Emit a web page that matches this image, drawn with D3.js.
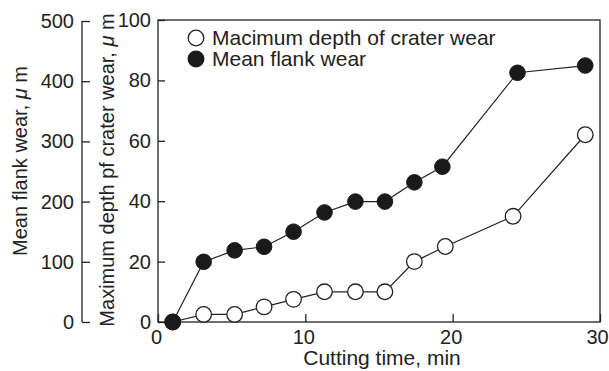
<!DOCTYPE html>
<html><head><meta charset="utf-8">
<script src="https://cdnjs.cloudflare.com/ajax/libs/d3/7.8.5/d3.min.js"></script>
<style>
html,body{margin:0;padding:0;background:#fff;}
text{font-family:"Liberation Sans",Arial,sans-serif;fill:#222;}
</style></head>
<body><svg id="c" width="609" height="371"></svg>
<script>
// ---- data ----
const flankTime  = [1.0, 3.1, 5.2, 7.2, 9.2, 11.3, 13.4, 15.4, 17.4, 19.3, 24.4, 29.0];
const flankWear  = [0, 100, 119, 125, 150, 182, 200, 200, 232, 258, 414, 426];
const craterTime = [1.0, 3.1, 5.2, 7.2, 9.2, 11.3, 13.4, 15.4, 17.4, 19.5, 24.1, 29.0];
const craterDepth= [0, 2.5, 2.5, 5, 7.5, 10, 10, 10, 20, 25, 35, 62];
const xTicks = [0, 10, 20, 30];
const craterTicks = [0, 20, 40, 60, 80, 100];
const flankTicks = [0, 100, 200, 300, 400, 500];
const legendLabels = ["Macimum depth of crater wear", "Mean flank wear"];

const svg = d3.select("#c");
const L = 158, R = 600, T = 20, B = 322;
const x = d3.scaleLinear().domain([0, 30]).range([L, R]);
const yC = d3.scaleLinear().domain([0, 100]).range([B, T]);
const yF = d3.scaleLinear().domain([0, 500]).range([B, T + 1]);
const FS = 20;

// frame
svg.append("rect").attr("x", L).attr("y", T).attr("width", R - L).attr("height", B - T)
  .attr("fill", "none").attr("stroke", "#222").attr("stroke-width", 1.3);

// inner crater axis (ticks inward)
const gC = svg.append("g").attr("transform", `translate(${L},0)`)
  .call(d3.axisLeft(yC).tickValues(craterTicks).tickSizeInner(-7).tickSizeOuter(0).tickPadding(7));
gC.select(".domain").remove();
gC.selectAll("line").attr("stroke", "#222").attr("stroke-width", 1.3);
gC.selectAll("text").attr("font-size", FS).attr("fill", "#222").attr("font-family", "Liberation Sans, Arial, sans-serif");

// x axis (ticks inward)
const gX = svg.append("g").attr("transform", `translate(0,${B})`)
  .call(d3.axisBottom(x).tickValues(xTicks).tickSizeInner(-8).tickSizeOuter(0).tickPadding(4));
gX.select(".domain").remove();
gX.selectAll("line").attr("stroke", "#222").attr("stroke-width", 1.3);
gX.selectAll("text").attr("font-size", FS).attr("fill", "#222").attr("font-family", "Liberation Sans, Arial, sans-serif")
  .attr("dy", "0.9em").attr("dx", d => d === 30 ? -3 : -2);

// outer flank axis
const AX = 82;
const gF = svg.append("g").attr("transform", `translate(${AX},0)`)
  .call(d3.axisLeft(yF).tickValues(flankTicks).tickSizeInner(-8).tickSizeOuter(0).tickPadding(8));
gF.select(".domain").attr("d", `M0,${yF(500)}V${yF(0)}`).attr("stroke", "#222").attr("stroke-width", 1.3);
gF.selectAll("line").attr("stroke", "#222").attr("stroke-width", 1.3);
gF.selectAll("text").attr("font-size", FS).attr("fill", "#222").attr("font-family", "Liberation Sans, Arial, sans-serif");

// axis titles
svg.append("text").attr("x", (L + R) / 2 + 3).attr("y", 365).attr("text-anchor", "middle")
  .attr("font-size", 21).text("Cutting time, min");

function rotTitle(cx, cy, main) {
  const t = svg.append("text").attr("transform", `translate(${cx},${cy}) rotate(-90)`)
    .attr("text-anchor", "middle").attr("font-size", FS);
  t.append("tspan").text(main);
  t.append("tspan").attr("font-style", "italic").text("\u03bc");
  t.append("tspan").text(" m");
}
rotTitle(27, 161, "Mean flank wear,  ");
rotTitle(114, 170, "Maximum depth pf crater wear,  ");

// lines
const lineC = d3.line().x(d => x(d[0])).y(d => yC(d[1]));
const lineF = d3.line().x(d => x(d[0])).y(d => yF(d[1]));
const cData = craterTime.map((t, i) => [t, craterDepth[i]]);
const fData = flankTime.map((t, i) => [t, flankWear[i]]);

svg.append("path").datum(cData).attr("d", lineC).attr("fill", "none").attr("stroke", "#222").attr("stroke-width", 1.2);
svg.append("path").datum(fData).attr("d", lineF).attr("fill", "none").attr("stroke", "#222").attr("stroke-width", 1.2);

const r = 7.8;
svg.append("g").selectAll("circle").data(cData).join("circle")
  .attr("cx", d => x(d[0])).attr("cy", d => yC(d[1])).attr("r", r)
  .attr("fill", "#fff").attr("stroke", "#222").attr("stroke-width", 1.3);
svg.append("g").selectAll("circle").data(fData).join("circle")
  .attr("cx", d => x(d[0])).attr("cy", d => yF(d[1])).attr("r", r)
  .attr("fill", "#1a1a1a").attr("stroke", "#1a1a1a").attr("stroke-width", 1);

// legend
const lg = svg.append("g");
legendLabels.forEach((lab, i) => {
  const cy = 38 + i * 21;
  lg.append("circle").attr("cx", 196).attr("cy", cy).attr("r", 7.8)
    .attr("fill", i === 0 ? "#fff" : "#1a1a1a").attr("stroke", i === 0 ? "#222" : "#1a1a1a").attr("stroke-width", 1.3);
  lg.append("text").attr("x", 212).attr("y", cy + 7).attr("font-size", FS + 1).text(lab);
});
</script></body></html>
